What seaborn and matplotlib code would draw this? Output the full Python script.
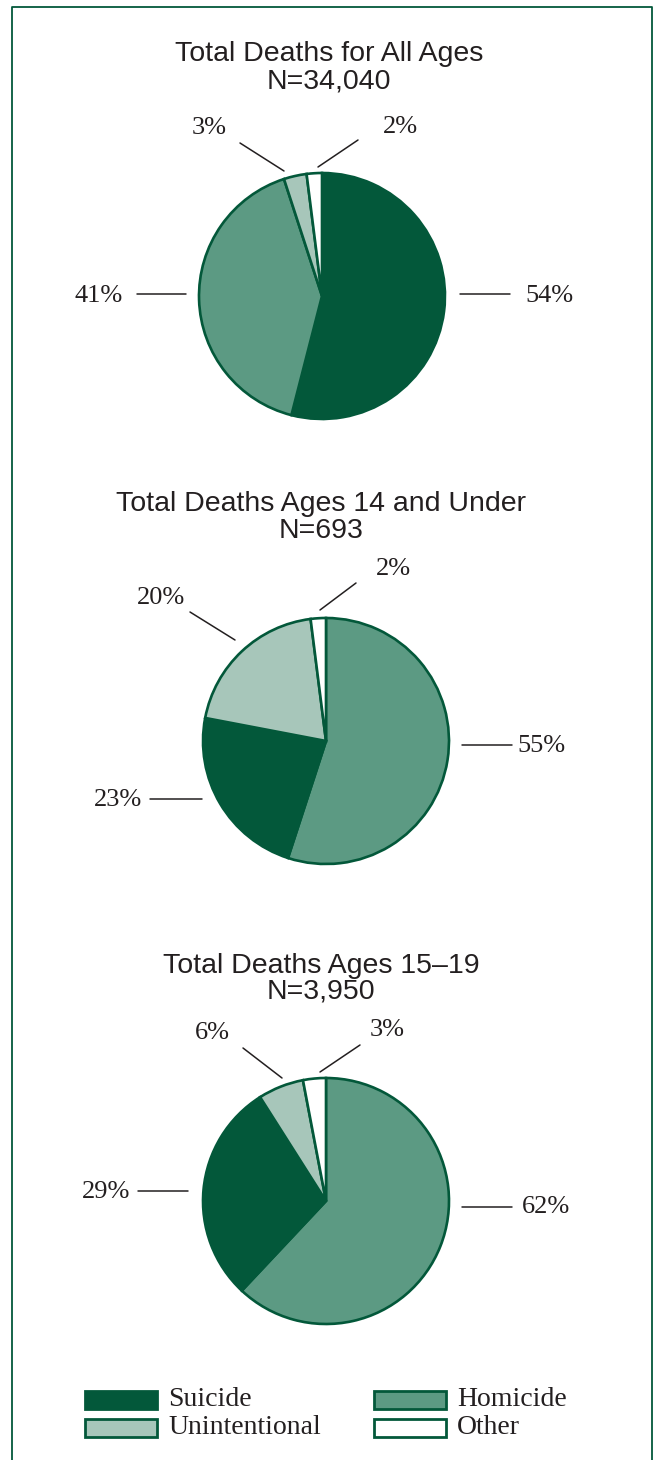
import matplotlib
matplotlib.use("Agg")
import matplotlib.pyplot as plt
from matplotlib.patches import Rectangle
import seaborn as sns

# ---- data ----
categories = ["Suicide", "Homicide", "Unintentional", "Other"]
titles = ["Total Deaths for All Ages", "Total Deaths Ages 14 and Under", "Total Deaths Ages 15\u201319"]
totals = ["34,040", "693", "3,950"]
# slice order per pie (clockwise from 12 o'clock)
order_all = ["Suicide", "Homicide", "Unintentional", "Other"]
order_14 = ["Homicide", "Suicide", "Unintentional", "Other"]
order_15 = ["Homicide", "Suicide", "Unintentional", "Other"]
values_all = [54, 41, 3, 2]
values_14 = [55, 23, 20, 2]
values_15 = [62, 29, 6, 3]

# ---- style ----
sns.set_theme(style="white")
DARK = "#03583A"
colors = {"Suicide": DARK, "Homicide": "#5C9A83", "Unintentional": "#A7C6BA", "Other": "#FFFFFF"}
SANS = ["Liberation Sans", "DejaVu Sans"]
SERIF = ["Liberation Serif", "DejaVu Serif"]

W, H = 655, 1460
fig = plt.figure(figsize=(W / 100, H / 100), dpi=100)
ax = fig.add_axes([0, 0, 1, 1])

def Y(y):
    return H - y

# layout: (pie center, title y, title x, label layout per slice: (text pos, line start, line end))
layouts = [
    dict(center=(322, 296), title_x=329, title_y=(54, 81),
         labels=[((549, 296), (460, 294), (510, 294)),
                 ((99, 296), (137, 294), (186, 294)),
                 ((209, 128), (240, 143), (284, 171)),
                 ((400, 127), (358, 140), (318, 167))]),
    dict(center=(326, 741), title_x=321, title_y=(504, 531),
         labels=[((541, 746), (462, 745), (512, 745)),
                 ((118, 800), (150, 799), (202, 799)),
                 ((161, 598), (190, 612), (235, 640)),
                 ((393, 569), (356, 583), (320, 610))]),
    dict(center=(326, 1201), title_x=321, title_y=(966, 992),
         labels=[((546, 1207), (462, 1207), (512, 1207)),
                 ((106, 1192), (138, 1191), (188, 1191)),
                 ((212, 1033), (243, 1048), (282, 1078)),
                 ((387, 1030), (360, 1045), (320, 1072))]),
]
orders = [order_all, order_14, order_15]
values = [values_all, values_14, values_15]
R = 123

for lay, order, vals, title, total in zip(layouts, orders, values, titles, totals):
    cx, cy = lay["center"]
    ax.pie(vals, colors=[colors[c] for c in order], startangle=90, counterclock=False,
           center=(cx, Y(cy)), radius=R, frame=True,
           wedgeprops=dict(edgecolor=DARK, linewidth=1.9))
    ax.text(lay["title_x"], Y(lay["title_y"][0]), title, ha="center", va="center",
            fontsize=20.5, family=SANS, color="#231F20")
    ax.text(lay["title_x"], Y(lay["title_y"][1]), f"N={total}", ha="center", va="center",
            fontsize=20.5, family=SANS, color="#231F20")
    for v, (tp, p0, p1) in zip(vals, lay["labels"]):
        ax.text(tp[0], Y(tp[1]), f"{v}%", ha="center", va="center", fontsize=19,
                family=SERIF, color="#231F20")
        ax.plot([p0[0], p1[0]], [Y(p0[1]), Y(p1[1])], color="#231F20", lw=1.1)

# legend
leg_pos = {"Suicide": (84, 1390), "Homicide": (373, 1390),
           "Unintentional": (84, 1418), "Other": (373, 1418)}
for c in categories:
    x, y = leg_pos[c]
    ax.add_patch(Rectangle((x + 1, Y(y + 19)), 72, 18, facecolor=colors[c],
                           edgecolor=DARK, linewidth=2.0))
    ax.text(x + 84, Y(y + 10), c, ha="left", va="center", fontsize=20,
            family=SERIF, color="#231F20")

# frame border
ax.plot([12, 12, 652, 652], [Y(1460), Y(7), Y(7), Y(1460)], color=DARK, lw=1.3)

ax.set_xlim(0, W)
ax.set_ylim(0, H)
ax.set_aspect("equal")
ax.axis("off")

fig.savefig("out.png", dpi=100)
